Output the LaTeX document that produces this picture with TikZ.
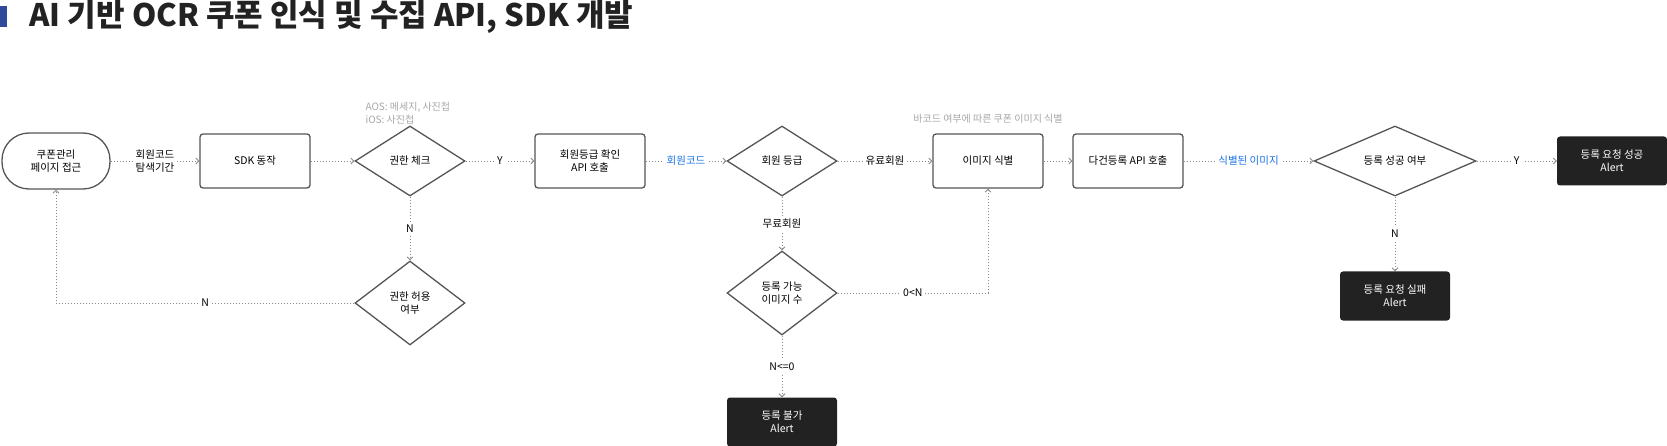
\documentclass[tikz,border=0pt]{standalone}
\usepackage{fontspec}
\setmainfont{Noto Sans CJK KR}
\usetikzlibrary{shapes.geometric,arrows.meta}
\definecolor{ln}{HTML}{8A8A8A}
\definecolor{bd}{HTML}{555555}
\definecolor{blu}{HTML}{1A73E8}
\definecolor{dk}{HTML}{222222}
\definecolor{tb}{HTML}{2F4A9A}
\tikzset{
 every node/.style={font=\fontsize{10.5}{13}\selectfont, align=center},
 box/.style={draw=bd, line width=1.3pt, rounded corners=3pt, minimum width=110pt, minimum height=54pt, fill=white},
 term/.style={draw=bd, line width=1.3pt, rounded corners=27pt, minimum width=108pt, minimum height=56pt},
 dia/.style={draw=bd, line width=1.3pt, diamond, aspect=1.6, minimum width=110pt, minimum height=70pt, inner sep=0pt, fill=white},
 blk/.style={fill=dk, rounded corners=3pt, minimum width=110pt, minimum height=49pt, text=white},
 con/.style={draw=ln, line width=0.8pt, dash pattern=on 1.5pt off 1.5pt, -{Straight Barb[length=3pt,width=6pt]}},
 lab/.style={fill=white, inner sep=3pt},
 gry/.style={text=gray!70, font=\fontsize{10}{13}\selectfont}
}
\begin{document}
\begin{tikzpicture}[x=1pt,y=-1pt]
\useasboundingbox (0,0) rectangle (1667,446);
\fill[tb] (0,6) rectangle (7,27);
\node[anchor=west, font=\fontsize{31}{34}\selectfont\bfseries, text=dk] (title) at (26,17) {AI 기반 OCR 쿠폰 인식 및 수집 API, SDK 개발};

\node[term] (n1) at (56,161) {쿠폰관리\\페이지 접근};
\node[box] (sdk) at (255,161) {SDK 동작};
\node[dia] (d1) at (410,161) {권한 체크};
\node[box] (api1) at (590,161) {회원등급 확인\\API 호출};
\node[dia] (d2) at (782,161) {회원 등급};
\node[box] (img) at (988,161) {이미지 식별};
\node[box] (api2) at (1128,161) {다건등록 API 호출};
\node[dia, minimum width=162pt, aspect=2.3] (d3) at (1395,161) {등록 성공 여부};
\node[blk] (ok) at (1612,161) {등록 요청 성공\\Alert};
\node[blk] (fail) at (1395,296) {등록 요청 실패\\Alert};
\node[dia, minimum height=84pt, aspect=1.3] (d4) at (410,303) {권한 허용\\여부};
\node[dia, minimum height=84pt, aspect=1.3] (d5) at (782,293) {등록 가능\\이미지 수};
\node[blk] (no) at (782,422) {등록 불가\\Alert};

\node[gry, anchor=west, align=left] (g1) at (362,113) {AOS: 메세지, 사진첩\\iOS: 사진첩};
\node[gry] (g2) at (988,119) {바코드 여부에 따른 쿠폰 이미지 식별};

\draw[con] (n1) -- node[lab]{회원코드\\탐색기간} (sdk);
\draw[con] (sdk) -- (d1);
\draw[con] (d1) -- node[lab]{Y} (api1);
\draw[con] (api1) -- node[lab, text=blu]{회원코드} (d2);
\draw[con] (d2) -- node[lab]{유료회원} (img);
\draw[con] (img) -- (api2);
\draw[con] (api2) -- node[lab, text=blu]{식별된 이미지} (d3);
\draw[con] (d3) -- node[lab]{Y} (ok);
\draw[con] (d3) -- node[lab]{N} (fail);
\draw[con] (d1) -- node[lab]{N} (d4);
\draw[con] (d4.west) -- node[lab]{N} (n1.south |- d4.west) -- (n1.south);
\draw[con] (d2) -- node[lab]{무료회원} (d5);
\draw[con] (d5.east) -- node[lab]{0<N} (img.south |- d5.east) -- (img.south);
\draw[con] (d5) -- node[lab]{N<=0} (no);
\end{tikzpicture}
\end{document}
